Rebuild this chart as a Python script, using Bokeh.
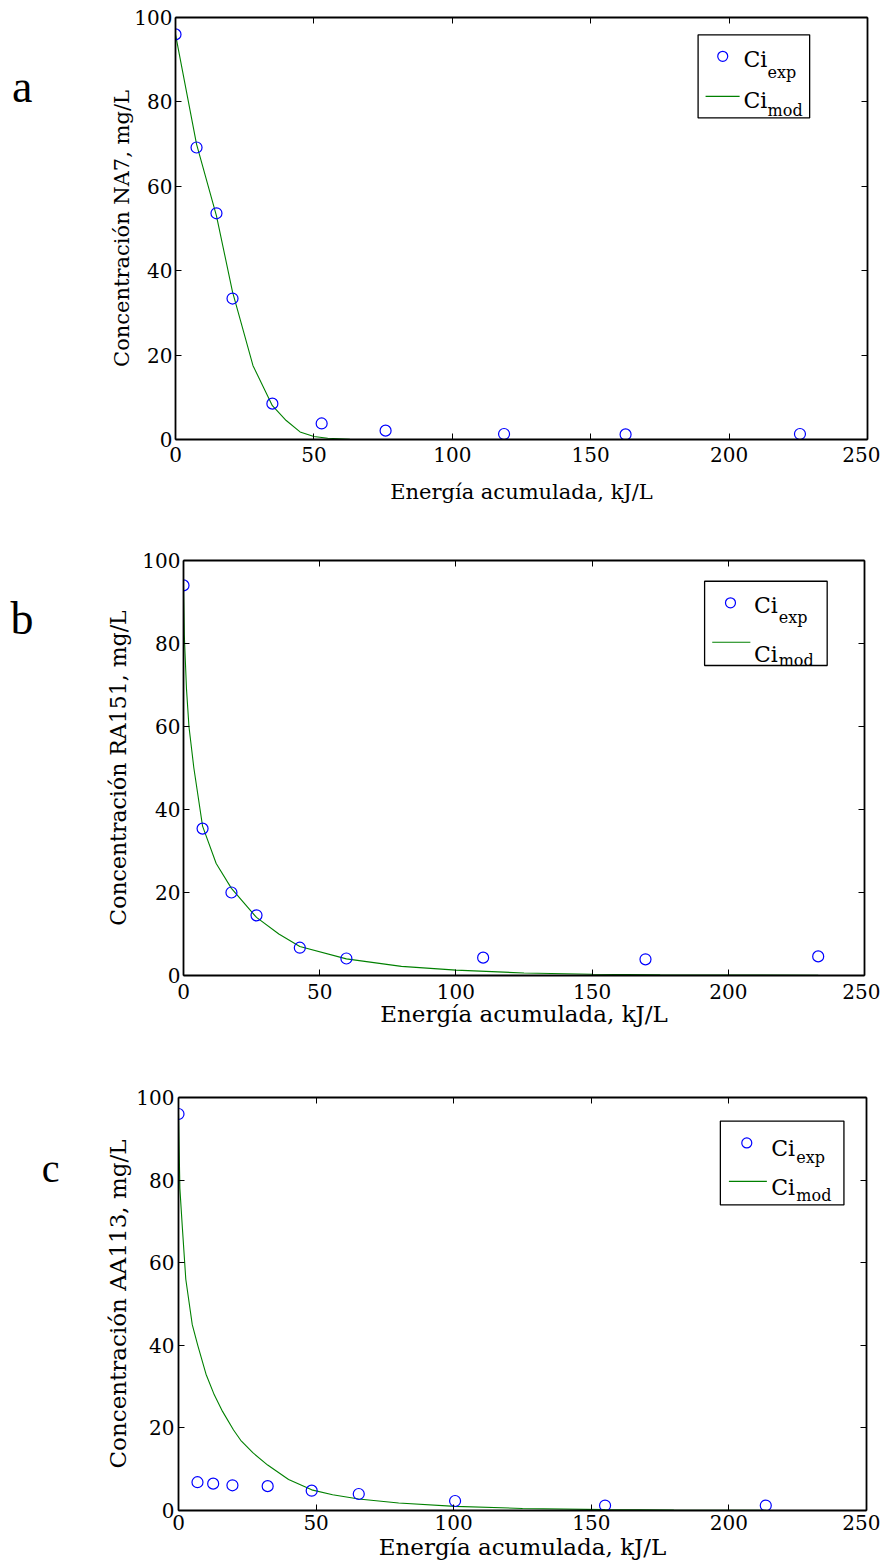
from bokeh.plotting import figure
from bokeh.models import Range1d, LinearAxis, Label, FixedTicker
from bokeh.embed import file_html
from bokeh.resources import INLINE

# ---------------- data ----------------
x_ticks = [0, 50, 100, 150, 200, 250]
y_ticks = [0, 20, 40, 60, 80, 100]

# panel a (NA7)
a_exp_x = [0, 7.6, 14.8, 20.6, 35.0, 52.8, 75.9, 118.7, 162.6, 225.6]
a_exp_y = [96.0, 69.2, 53.6, 33.4, 8.5, 3.8, 2.1, 1.3, 1.2, 1.3]
a_mod_x = [0, 7.6, 14.8, 20.6, 28.0, 35.0, 40.0, 45.0, 50.0, 55.0, 63.0, 75.9, 118.7, 162.6, 225.6]
a_mod_y = [96.0, 70.0, 53.0, 35.0, 17.5, 8.0, 4.5, 1.8, 0.7, 0.3, 0.05, 0.0, 0.0, 0.0, 0.0]

# panel b (RA151)
b_exp_x = [0, 7.0, 17.6, 26.8, 42.7, 59.8, 110.0, 169.6, 233.0]
b_exp_y = [94.0, 35.4, 20.0, 14.5, 6.7, 4.1, 4.3, 3.9, 4.6]
b_mod_x = [0, 0.3, 1.1, 2.0, 3.8, 7.0, 12.0, 17.6, 26.8, 35.0, 42.7, 59.8, 80.0, 100.0, 125.0, 150.0, 175.0, 200.0, 233.0]
b_mod_y = [94.0, 82.0, 69.0, 60.0, 50.0, 36.0, 27.0, 21.0, 14.0, 10.0, 7.0, 4.0, 2.2, 1.3, 0.6, 0.3, 0.15, 0.1, 0.05]

# panel c (AA113)
c_exp_x = [0, 6.9, 12.6, 19.6, 32.4, 48.4, 65.5, 100.5, 155.0, 213.4]
c_exp_y = [96.0, 6.85, 6.5, 6.1, 5.9, 4.8, 4.0, 2.3, 1.2, 1.2]
c_mod_x = [0, 0.5, 1.45, 2.65, 5.0, 7.0, 10.0, 13.0, 16.0, 20.0, 22.6, 27.0, 32.4, 40.0, 48.4, 56.0, 65.5, 80.0, 100.5, 125.0, 155.0, 180.0, 213.4]
c_mod_y = [96.0, 78.0, 68.0, 56.0, 45.0, 40.0, 33.0, 28.0, 24.0, 19.5, 17.0, 14.0, 11.0, 7.5, 5.0, 3.8, 2.8, 1.8, 1.0, 0.5, 0.2, 0.1, 0.05]

x_title = "Energía acumulada, kJ/L"
y_titles = ["Concentración NA7, mg/L", "Concentración RA151, mg/L", "Concentración AA113, mg/L"]
letters = ["a", "b", "c"]
leg_exp = ("Ci", "exp")
leg_mod = ("Ci", "mod")

# ---------------- layout (positions / styles) ----------------
FONT = "DejaVu Serif"
BLUE = "#0000FF"
GREEN = "#008000"
W = 880

layouts = [
    dict(h=523, bl=175, br=13, bt=17, bb=84, ysz="21px", xsz="21px",
         ystand_lab=-3, xstand_lab=15, ystand=3, xstand=7,
         let_y=83.6, let_sz="46px", let_stand=75,
         box=(188.8, 229.1, 76.2, 95.9), mk=(197.7, 90.8), ln=(191.5, 203.8, 81.3),
         t1=(205.2, 90.0), s1=(213.9, 87.0), t2=(205.2, 80.3), s2=(213.9, 78.0)),
    dict(h=517, bl=183, br=16, bt=37, bb=65, ysz="22px", xsz="23px",
         ystand_lab=8, xstand_lab=-1, ystand=3, xstand=8,
         let_y=86.0, let_sz="46px", let_stand=70,
         box=(191.3, 236.3, 74.7, 95.0), mk=(200.8, 89.8), ln=(194.1, 208.1, 80.3),
         t1=(209.4, 89.2), s1=(218.5, 86.3), t2=(209.4, 77.3), s2=(218.5, 75.9)),
    dict(h=525, bl=178, br=14, bt=57, bb=55, ysz="23px", xsz="23px",
         ystand_lab=2, xstand_lab=1, ystand=4, xstand=4,
         let_y=82.8, let_sz="40px", let_stand=43,
         box=(196.9, 241.8, 74.0, 94.3), mk=(206.5, 89.0), ln=(200.0, 213.8, 79.7),
         t1=(215.4, 87.6), s1=(224.5, 85.4), t2=(215.4, 78.3), s2=(224.5, 76.3)),
]

series = [
    (a_exp_x, a_exp_y, a_mod_x, a_mod_y),
    (b_exp_x, b_exp_y, b_mod_x, b_mod_y),
    (c_exp_x, c_exp_y, c_mod_x, c_mod_y),
]


def style_axis(ax, ticks, show_labels, stand):
    ax.ticker = FixedTicker(ticks=ticks)
    ax.major_tick_in = 6
    ax.major_tick_out = 0
    ax.minor_tick_in = 0
    ax.minor_tick_out = 0
    ax.axis_line_color = "black"
    ax.axis_line_width = 1.8
    ax.major_tick_line_color = "black"
    ax.major_tick_line_width = 1
    if show_labels:
        ax.major_label_text_font = FONT
        ax.major_label_text_font_size = "20px"
        ax.major_label_text_color = "black"
        ax.major_label_standoff = stand
    else:
        ax.major_label_text_font_size = "0px"
        ax.major_label_standoff = 0
        ax.major_label_text_alpha = 0


def style_title(ax, text, size, stand):
    ax.axis_label = text
    ax.axis_label_text_font = FONT
    ax.axis_label_text_font_size = size
    ax.axis_label_text_font_style = "normal"
    ax.axis_label_text_color = "black"
    ax.axis_label_standoff = stand


figs = []
for i, (L, (ex, ey, mx, my)) in enumerate(zip(layouts, series)):
    p = figure(width=W, height=L["h"], output_backend="svg", toolbar_location=None,
               x_range=Range1d(0, 250), y_range=Range1d(0, 100),
               min_border_left=L["bl"], min_border_right=L["br"],
               min_border_top=L["bt"], min_border_bottom=L["bb"])
    p.outline_line_color = None
    p.background_fill_color = "white"
    p.border_fill_color = "white"
    p.xgrid.visible = False
    p.ygrid.visible = False
    style_axis(p.xaxis[0], x_ticks, True, L["xstand"])
    style_axis(p.yaxis[0], y_ticks, True, L["ystand"])
    style_title(p.xaxis[0], x_title, L["xsz"], L["xstand_lab"])
    style_title(p.yaxis[0], y_titles[i], L["ysz"], L["ystand_lab"])

    top_ax = LinearAxis()
    right_ax = LinearAxis()
    style_axis(top_ax, x_ticks, False, 0)
    style_axis(right_ax, y_ticks, False, 0)
    p.add_layout(top_ax, "above")
    p.add_layout(right_ax, "right")

    # panel letter: an outer left axis carrying one horizontal label
    let_ax = LinearAxis(ticker=FixedTicker(ticks=[L["let_y"]]),
                        major_label_overrides={L["let_y"]: letters[i]})
    let_ax.axis_line_color = None
    let_ax.major_tick_line_color = None
    let_ax.minor_tick_line_color = None
    let_ax.major_tick_in = 0
    let_ax.major_tick_out = 0
    let_ax.major_label_text_font = "Liberation Serif"
    let_ax.major_label_text_font_size = L["let_sz"]
    let_ax.major_label_text_color = "black"
    let_ax.major_label_standoff = L["let_stand"]
    p.add_layout(let_ax, "left")

    # data
    p.line(mx, my, line_color=GREEN, line_width=1.1)
    p.scatter(ex, ey, marker="circle", size=11, fill_color=None,
              line_color=BLUE, line_width=1.2)

    # legend (drawn manually for sub-scripted labels)
    bl_, br_, bb_, bt_ = L["box"]
    p.quad(left=[bl_], right=[br_], bottom=[bb_], top=[bt_],
           fill_color="white", line_color="black", line_width=1.3)
    p.scatter([L["mk"][0]], [L["mk"][1]], marker="circle", size=10, fill_color=None,
              line_color=BLUE, line_width=1.2)
    p.line([L["ln"][0], L["ln"][1]], [L["ln"][2], L["ln"][2]], line_color=GREEN, line_width=1.1)
    for (tx, ty), txt, sz in [(L["t1"], leg_exp[0], "22px"), (L["s1"], leg_exp[1], "16px"),
                              (L["t2"], leg_mod[0], "22px"), (L["s2"], leg_mod[1], "16px")]:
        p.add_layout(Label(x=tx, y=ty, text=txt, text_font=FONT, text_font_size=sz,
                           text_color="black", text_align="left", text_baseline="alphabetic"))
    figs.append(p)

# separate roots, so that each panel keeps its own frame position
open("out.html", "w").write(file_html(figs, INLINE))
